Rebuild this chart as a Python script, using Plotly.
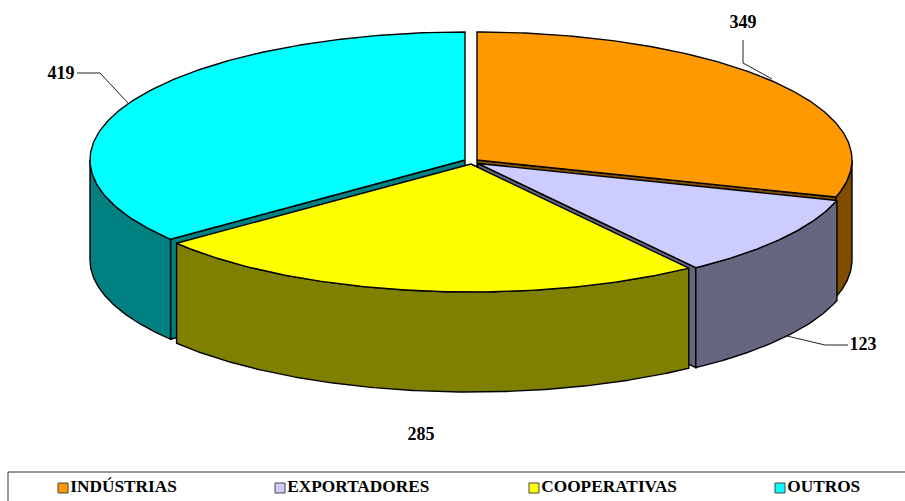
import numpy as np
import plotly.graph_objects as go

categories = ["INDÚSTRIAS", "EXPORTADORES", "COOPERATIVAS", "OUTROS"]
values = [349, 123, 285, 419]
top_colors = ["#FF9900", "#CCCCFF", "#FFFF00", "#00FFFF"]
side_colors = ["#804D00", "#666680", "#808000", "#008080"]

# Pie projection (pixel-like plot units)
RX, RY, DEPTH = 375, 128, 100
apexes = [(477, 160), (478, 163.5), (471, 164), (465, 160)]
FONT = "Liberation Serif"

fig = go.Figure()


def poly(xs, ys, color, width=1.4):
    fig.add_trace(go.Scatter(x=list(xs), y=list(ys), mode="lines", fill="toself",
                             fillcolor=color, line=dict(color="black", width=width),
                             hoverinfo="skip", showlegend=False))


total = sum(values)
edges = np.cumsum([0] + values) / total * 360.0
geo = []
for i in range(len(values)):
    geo.append((edges[i], edges[i + 1], apexes[i]))


def pt(apex, deg):
    r = np.radians(deg)
    return apex[0] + RX * np.sin(r), apex[1] - RY * np.cos(r)


def top(i):
    a0, a1, ap = geo[i]
    t = np.linspace(a0, a1, 160)
    x, y = pt(ap, t)
    poly(np.r_[ap[0], x, ap[0]], np.r_[ap[1], y, ap[1]], top_colors[i])


def outer(i):
    a0, a1, ap = geo[i]
    lo, hi = max(a0, 90), min(a1, 270)
    if lo >= hi:
        return
    t = np.linspace(lo, hi, 160)
    x, y = pt(ap, t)
    poly(np.r_[x, x[::-1], x[0]], np.r_[y, y[::-1] + DEPTH, y[0]], side_colors[i])


def cut(i, deg):
    ap = geo[i][2]
    x, y = pt(ap, deg)
    poly([ap[0], x, x, ap[0], ap[0]],
         [ap[1], y, y + DEPTH, ap[1] + DEPTH, ap[1]], side_colors[i])


# Painter's order: back to front
cut(0, edges[1]); outer(0); top(0)
cut(3, edges[3]); outer(3); top(3)
cut(1, edges[2]); outer(1); top(1)
outer(2); top(2)

# Leader lines
leaders = [([743, 743, 772], [40, 63, 79]),
           ([77, 100, 128], [73, 73, 103]),
           ([848, 825, 787], [345, 345, 336])]
for lx, ly in leaders:
    fig.add_trace(go.Scatter(x=lx, y=ly, mode="lines", line=dict(color="#222", width=1),
                             hoverinfo="skip", showlegend=False))

# Value labels
label_x = [743, 421, 61, 863]
label_y = [23, 435, 74, 345]
label_text = [str(values[0]), str(values[2]), str(values[3]), str(values[1])]
fig.add_trace(go.Scatter(x=label_x, y=label_y, mode="text", text=label_text,
                         textfont=dict(family=FONT, size=18, color="black", weight="bold"),
                         textposition="middle center", hoverinfo="skip", showlegend=False))

# Legend row
legend_x = [63, 280, 534, 780]
legend_y = 488
for lx, c, name in zip(legend_x, top_colors, categories):
    fig.add_trace(go.Scatter(x=[lx], y=[legend_y], mode="markers+text", text=[name],
                             textposition="middle right",
                             textfont=dict(family=FONT, size=17.3, color="black", weight="bold"),
                             marker=dict(symbol="square", size=10, color=c,
                                         line=dict(color="#444", width=1)),
                             hoverinfo="skip", showlegend=False))

fig.update_layout(
    width=905, height=501, margin=dict(l=0, r=0, t=0, b=0),
    paper_bgcolor="white", plot_bgcolor="white", showlegend=False,
    xaxis=dict(range=[0, 905], visible=False, fixedrange=True),
    yaxis=dict(range=[501, 0], visible=False, fixedrange=True),
    shapes=[dict(type="line", x0=8, x1=905, y0=472, y1=472, line=dict(color="#333", width=1)),
            dict(type="line", x0=8, x1=8, y0=472, y1=501, line=dict(color="#333", width=1))],
)
fig.write_html("out.html", config={"displayModeBar": False},
               post_script="document.body.style.margin='0';document.documentElement.style.overflow='hidden';")
